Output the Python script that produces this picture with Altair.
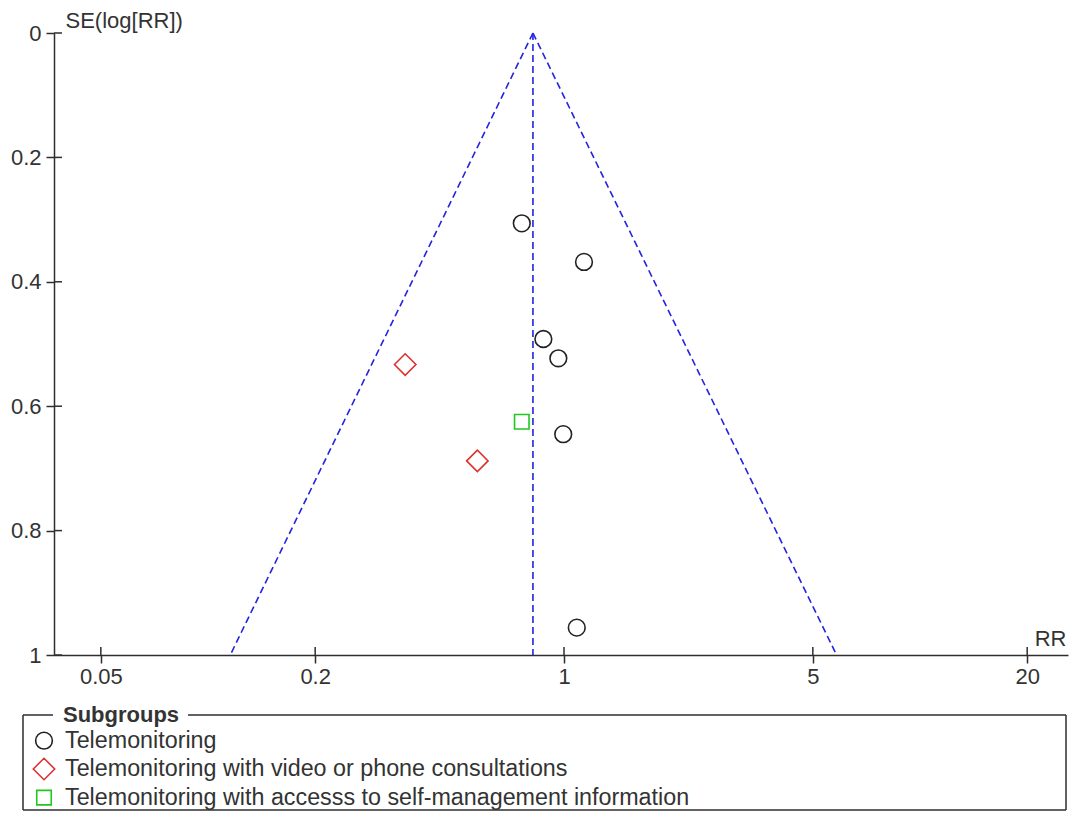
import altair as alt
import pandas as pd

# ---- data ----
G1 = "Telemonitoring"
G2 = "Telemonitoring with video or phone consultations"
G3 = "Telemonitoring with accesss to self-management information"
groups = [G1, G2, G3]

study_rr = [0.761, 1.138, 0.875, 0.964, 0.995, 1.086, 0.358, 0.571, 0.761]
study_se = [0.306, 0.368, 0.492, 0.523, 0.645, 0.956, 0.533, 0.688, 0.625]
study_group = [G1, G1, G1, G1, G1, G1, G2, G2, G3]

# funnel (pooled estimate and 95% limits at SE = 1)
funnel_rr_top = [0.818, 0.818, 0.818]
funnel_rr_bottom = [0.1155, 0.818, 5.83]
funnel_se_top = [0.0, 0.0, 0.0]
funnel_se_bottom = [1.0, 1.0, 1.0]

x_ticks = [0.05, 0.2, 1, 5, 20]
y_ticks = [0, 0.2, 0.4, 0.6, 0.8, 1]

FONT = "Liberation Sans"
AX = "#2e2e2e"
TXT = "#333333"
BLUE = "#2323e0"
colors = ["#222222", "#dc3232", "#20c820"]
shapes = ["circle", "diamond", "square"]
sizes = [280, 460, 210]

df = pd.DataFrame({"rr": study_rr, "se": study_se, "group": study_group})
funnel = pd.DataFrame({"rr_top": funnel_rr_top, "rr_bottom": funnel_rr_bottom,
                       "se_top": funnel_se_top, "se_bottom": funnel_se_bottom})

W, H = 1014, 622
xscale = alt.Scale(type="log", domain=[10 ** -1.4326, 10 ** 1.4157], nice=False)
yscale = alt.Scale(domain=[0, 1], reverse=True, nice=False, zero=False)

BL, BR, BT, BB = -31, 1012, 682, 777

xaxis = alt.Axis(values=x_ticks, format="~g", title="RR", titleX=BR, titleY=-10,
                 titleAlign="right", titleBaseline="alphabetic", titleAngle=0,
                 titleFontWeight="normal", titleFontSize=22, titleColor=TXT,
                 labelFontSize=22, labelColor=TXT, labelPadding=3, tickSize=8,
                 grid=False, domainColor=AX, tickColor=AX, domainWidth=1.5,
                 tickWidth=1.5, labelFlush=False, labelOverlap=False)
yaxis = alt.Axis(values=y_ticks, format="~g", title="SE(log[RR])", titleX=11, titleY=-6,
                 titleAlign="left", titleBaseline="alphabetic", titleAngle=0,
                 titleFontWeight="normal", titleFontSize=22, titleColor=TXT,
                 labelFontSize=22, labelColor=TXT, labelPadding=5, tickSize=8,
                 grid=False, domainColor=AX, tickColor=AX, domainWidth=1.5,
                 tickWidth=1.5, labelFlush=False, labelOverlap=False)

legend = alt.Legend(title=None, orient="none", legendX=-22, legendY=696,
                    labelFontSize=23.3, labelFont=FONT, labelColor=TXT,
                    symbolSize=260, symbolStrokeWidth=1.6, rowPadding=2,
                    labelOffset=9, padding=0, labelLimit=0)

funnel_layer = alt.Chart(funnel).mark_rule(color=BLUE, strokeDash=[7, 4], strokeWidth=1.6).encode(
    x=alt.X("rr_top:Q", scale=xscale, axis=xaxis),
    x2="rr_bottom:Q",
    y=alt.Y("se_top:Q", scale=yscale, axis=yaxis),
    y2="se_bottom:Q",
)

points = alt.Chart(df).mark_point(filled=False, strokeWidth=1.6, opacity=1).encode(
    x=alt.X("rr:Q", scale=xscale, axis=xaxis),
    y=alt.Y("se:Q", scale=yscale, axis=yaxis),
    shape=alt.Shape("group:N", scale=alt.Scale(domain=groups, range=shapes), legend=legend),
    color=alt.Color("group:N", scale=alt.Scale(domain=groups, range=colors), legend=legend),
    size=alt.Size("group:N", scale=alt.Scale(type="ordinal", domain=groups, range=sizes), legend=None),
)

xt = alt.Chart(pd.DataFrame({"t": x_ticks})).mark_rule(color=AX, strokeWidth=1.5).encode(
    x=alt.X("t:Q", scale=xscale, axis=xaxis), y=alt.value(H - 8), y2=alt.value(H))
yt = alt.Chart(pd.DataFrame({"s": y_ticks})).mark_rule(color=AX, strokeWidth=1.5).encode(
    y=alt.Y("s:Q", scale=yscale, axis=yaxis), x=alt.value(0), x2=alt.value(8))

one = pd.DataFrame({"a": [0]})


def seg(x1, x2, y1, y2):
    return alt.Chart(one).mark_rule(color=AX, strokeWidth=1.5).encode(
        x=alt.value(x1), x2=alt.value(x2), y=alt.value(y1), y2=alt.value(y2))


box = [seg(BL, -1, BT, BT), seg(134, BR, BT, BT), seg(BL, BR, BB, BB),
       seg(BL, BL, BT, BB), seg(BR, BR, BT, BB)]

title = alt.Chart(one).mark_text(text="Subgroups", font=FONT, fontSize=22, fontWeight="bold",
                                 color=TXT, align="left", baseline="middle").encode(
    x=alt.value(9), y=alt.value(BT))

chart = alt.layer(funnel_layer, points, xt, yt, *box, title).properties(
    width=W, height=H,
    autosize=alt.AutoSizeParams(type="none"),
    padding={"left": 46, "top": 25, "right": 2, "bottom": 157},
).configure(font=FONT).configure_view(stroke=None)

chart.save("out.html", embed_options={"renderer": "svg", "actions": False})
